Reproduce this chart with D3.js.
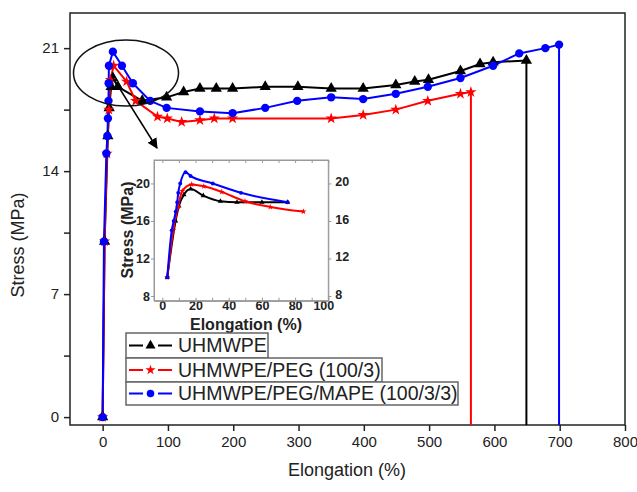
<!DOCTYPE html>
<html lang="en">
<head>
  <meta charset="UTF-8">
  <title>Stress vs Elongation</title>
  <script src="https://d3js.org/d3.v7.min.js"></script>
  <style>
    body { margin: 0; background: #fff; }
    svg { display: block; font-family: Arial, "Liberation Sans", sans-serif; }
    .line { fill: none; stroke-width: 2px; }
    .axis path, .axis line { stroke: #222; stroke-width: 1.5px; }
    .axis text { font-size: 15px; fill: #222; }
    .inset .axis path, .inset .axis line { stroke: #999; stroke-width: 1px; }
    .inset .axis text { font-size: 12.5px; font-weight: bold; fill: #222; }
  </style>
</head>
<body>
<svg width="637" height="492"></svg>
<script>
// main curves [elongation %, stress MPa]
const uhmwpe = [[0,0],[3,10],[8,16],[10,17.6],[13,18.8],[15.8,19.3],[23.4,18.8],[60.6,18.0],[98,18.2],[124,18.5],
  [149,18.7],[174,18.7],[199,18.7],[249,18.8],[299,18.8],[350,18.7],[399,18.7],[449,18.9],[478,19.1],[499,19.2],
  [548,19.7],[578,20.1],[598,20.2],[649,20.3]];
const uhmwpePeg = [[0,0],[3,10],[6.6,15],[9.5,17.5],[12,19.2],[16.8,20],[36.7,19.1],[50.5,18],[84,17.1],[99,17],
  [121,16.8],[149,16.9],[171,17],[199,17],[350,17],[399,17.2],[449,17.5],[498,18],[548,18.4],[564,18.5]];
const uhmwpePegMape = [[0,0],[2,10],[5.7,15],[7.2,16],[8.1,17],[9,18],[9.2,19],[9.6,20],[15.7,20.8],[29.5,20],
  [46.3,19],[72.8,18],[98,17.6],[149,17.4],[199,17.3],[249,17.6],[298,18],[350,18.2],[399,18.1],[449,18.4],
  [498,18.8],[548,19.3],[598,20],[638,20.7],[678,21],[699,21.2]];

// inset (zoom of the yield region)
const insetUhmwpe = [[3,10],[8,16],[10,17.6],[13,18.8],[17.1,19.4],[24.7,18.7],[35,18.1],[45,18],[60,18],[75.5,18]];
const insetPeg = [[3,10],[6.6,15],[9.5,17.5],[12,19.2],[17.7,19.9],[25,19.7],[35.8,19.1],[49.8,18.1],[65,17.5],[85,17]];
const insetMape = [[3,10],[5.7,15],[6.9,16],[8.1,17],[9,18],[9.6,19],[10.8,20],[14,21.2],[17,20.8],[30.4,20],[47.4,19],[75.5,18]];

const xTicks = [0,100,200,300,400,500,600,700,800];
const yTicks = [0,3.5,7,10.5,14,17.5,21];
const insetXTicks = [0,20,40,60,80,100];
const insetYTicks = [8,12,16,20];

const seriesNames = ["UHMWPE", "UHMWPE/PEG (100/3)", "UHMWPE/PEG/MAPE (100/3/3)"];
const colors = ["#000000", "#ff0000", "#0000ff"];
const symbols = [d3.symbolTriangle, d3.symbolStar, d3.symbolCircle];

const svg = d3.select("svg");

const x = d3.scaleLinear().domain([-50, 800]).range([70, 625]);
const y = d3.scaleLinear().domain([-0.45, 23]).range([425, 13]);

// frame
svg.append("rect").attr("x", 70).attr("y", 13).attr("width", 555).attr("height", 412)
  .attr("fill", "none").attr("stroke", "#222").attr("stroke-width", 1.5);

svg.append("g").attr("class", "axis").attr("transform", "translate(0,425)")
  .call(d3.axisBottom(x).tickValues(xTicks).tickSize(6).tickPadding(5).tickSizeOuter(0))
  .call(g => g.select(".domain").remove());
svg.append("g").attr("class", "axis").attr("transform", "translate(70,0)")
  .call(d3.axisLeft(y).tickValues(yTicks).tickSize(6).tickPadding(5).tickSizeOuter(0)
    .tickFormat(d => d % 7 === 0 ? d : ""))
  .call(g => g.select(".domain").remove());

svg.append("text").attr("x", 347).attr("y", 476).attr("text-anchor", "middle")
  .attr("font-size", 18).attr("fill", "#222").text("Elongation (%)");
svg.append("text").attr("transform", "translate(24,245) rotate(-90)").attr("text-anchor", "middle")
  .attr("font-size", 18).attr("fill", "#222").text("Stress (MPa)");

const line = d3.line().x(d => x(d[0])).y(d => y(d[1]));
const mainData = [uhmwpe, uhmwpePeg, uhmwpePegMape];
const markerSize = [55, 40, 55];

mainData.forEach((data, i) => {
  const last = data[data.length - 1];
  svg.append("path").datum(data).attr("class", "line").attr("stroke", colors[i]).attr("d", line);
  svg.append("line").attr("x1", x(last[0])).attr("x2", x(last[0]))
    .attr("y1", y(last[1])).attr("y2", y.range()[0])
    .attr("stroke", colors[i]).attr("stroke-width", 2);
});
mainData.forEach((data, i) => {
  svg.append("g").selectAll("path").data(data).join("path")
    .attr("transform", d => `translate(${x(d[0])},${y(d[1])})`)
    .attr("d", d3.symbol(symbols[i], markerSize[i]))
    .attr("fill", colors[i]);
});

// ellipse + arrow pointing to inset
svg.append("defs").append("marker").attr("id", "arrow")
  .attr("viewBox", "0 0 10 10").attr("refX", 9).attr("refY", 5)
  .attr("markerWidth", 7).attr("markerHeight", 7).attr("orient", "auto")
  .append("path").attr("d", "M0,0L10,5L0,10z").attr("fill", "#000");
svg.append("ellipse").attr("cx", 126).attr("cy", 73).attr("rx", 52.5).attr("ry", 33)
  .attr("fill", "none").attr("stroke", "#111").attr("stroke-width", 1.5);
svg.append("line").attr("x1", 113).attr("y1", 78).attr("x2", 157).attr("y2", 148)
  .attr("stroke", "#000").attr("stroke-width", 1.5).attr("marker-end", "url(#arrow)");

// inset
const ix = d3.scaleLinear().domain([-5, 100]).range([154, 328.3]);
const iy = d3.scaleLinear().domain([7.5, 22.5]).range([300.7, 160]);
const inset = svg.append("g").attr("class", "inset");
inset.append("rect").attr("x", 154).attr("y", 160).attr("width", 174.3).attr("height", 140.7)
  .attr("fill", "#fff").attr("stroke", "#999");
inset.append("g").attr("class", "axis").attr("transform", "translate(0,300.7)")
  .call(d3.axisBottom(ix).tickValues(insetXTicks).tickSize(0).tickPadding(0).tickSizeOuter(0))
  .call(g => g.selectAll("text").attr("dy", "0.72em").attr("dx", d => d === 100 ? "-0.4em" : 0));
inset.append("g").attr("class", "axis").attr("transform", "translate(0,300.7)")
  .call(d3.axisTop(ix).ticks(10).tickSize(3).tickFormat("").tickSizeOuter(0));
inset.append("g").attr("class", "axis").attr("transform", "translate(0,160)")
  .call(d3.axisBottom(ix).ticks(10).tickSize(3).tickFormat("").tickSizeOuter(0));
inset.append("g").attr("class", "axis").attr("transform", "translate(154,0)")
  .call(d3.axisLeft(iy).tickValues(insetYTicks).tickSize(3).tickPadding(1).tickSizeOuter(0));
inset.append("g").attr("class", "axis").attr("transform", "translate(328.3,0)")
  .call(d3.axisRight(iy).tickValues(insetYTicks).tickSize(3).tickPadding(4).tickSizeOuter(0))
  .call(g => g.selectAll("text").attr("dy", "0.2em"));
inset.append("text").attr("x", 246).attr("y", 330).attr("text-anchor", "middle")
  .attr("font-size", 16).attr("font-weight", "bold").attr("fill", "#222").text("Elongation (%)");
inset.append("text").attr("transform", "translate(133,230) rotate(-90)").attr("text-anchor", "middle")
  .attr("font-size", 16).attr("font-weight", "bold").attr("fill", "#222").text("Stress (MPa)");

const iline = d3.line().x(d => ix(d[0])).y(d => iy(d[1])).curve(d3.curveMonotoneX);
[insetUhmwpe, insetPeg, insetMape].forEach((data, i) => {
  inset.append("path").datum(data).attr("class", "line").attr("stroke", colors[i]).attr("d", iline);
  inset.append("g").selectAll("path").data(data).join("path")
    .attr("transform", d => `translate(${ix(d[0])},${iy(d[1])})`)
    .attr("d", d3.symbol(symbols[i], 12))
    .attr("fill", colors[i]);
});

// legend: one box per entry
const legendBoxes = [[126, 333, 142, 25], [126, 358, 256, 24], [126, 382, 332, 23]];
seriesNames.forEach((name, i) => {
  const [bx, by, bw, bh] = legendBoxes[i];
  const cy = by + bh / 2;
  const g = svg.append("g");
  g.append("rect").attr("x", bx).attr("y", by).attr("width", bw).attr("height", bh)
    .attr("fill", "#fff").attr("stroke", "#666").attr("stroke-width", 1.5);
  g.append("line").attr("x1", 129).attr("x2", 143).attr("y1", cy).attr("y2", cy)
    .attr("stroke", colors[i]).attr("stroke-width", 2);
  g.append("line").attr("x1", 158).attr("x2", 172).attr("y1", cy).attr("y2", cy)
    .attr("stroke", colors[i]).attr("stroke-width", 2);
  g.append("path").attr("transform", `translate(150.5,${cy})`)
    .attr("d", d3.symbol(symbols[i], markerSize[i] * 0.8)).attr("fill", colors[i]);
  g.append("text").attr("x", 178).attr("y", cy).attr("dy", "0.35em")
    .attr("font-size", 19.5).attr("fill", "#222").text(name);
});
</script>
</body>
</html>
